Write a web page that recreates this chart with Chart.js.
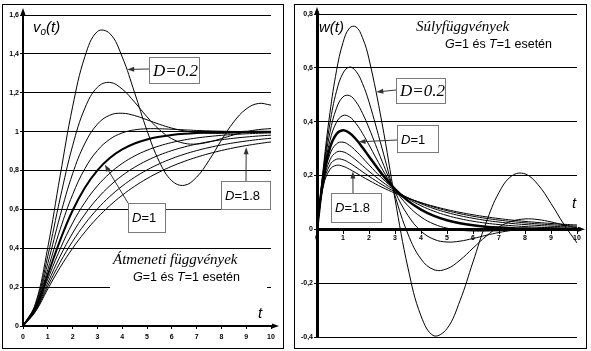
<!DOCTYPE html>
<html>
<head>
<meta charset="utf-8">
<script src="https://cdn.jsdelivr.net/npm/chart.js@4"></script>
<style>
body { margin: 0; background: #fff; }
.panel { position: absolute; border: 1px solid #000; background: #fff; }
#left { left: 2px; top: 4px; width: 280px; height: 343px; }
#right { left: 294px; top: 4px; width: 291px; height: 343px; }
canvas { display: block; }
</style>
</head>
<body>
<div class="panel" id="left"><canvas id="stepChart" width="280" height="343"></canvas></div>
<div class="panel" id="right"><canvas id="impChart" width="291" height="343"></canvas></div>
<script>
// time axis, step responses (left) and weight functions (right)
const tStep = [0, 0.5, 1, 1.5, 2, 2.5, 3, 3.5, 4, 4.5, 5, 5.5, 6, 6.5, 7, 7.5, 8, 8.5, 9, 9.5, 10];
const tImp = [0, 0.25, 0.5, 0.75, 1, 1.25, 1.5, 1.75, 2, 2.5, 3, 3.5, 4, 4.5, 5, 5.5, 6, 6.5, 7, 7.5, 8, 8.5, 9, 9.5, 10];
const dampings = [0.2, 0.4, 0.6, 0.8, 1, 1.2, 1.4, 1.6, 1.8];

const step02 = [0, 0.1147, 0.4050, 0.7748, 1.1274, 1.3879, 1.5151, 1.5049, 1.3845, 1.2006, 1.0056, 0.8446, 0.7473, 0.7237, 0.7657, 0.8521, 0.9556, 1.0503, 1.1166, 1.1450, 1.1361];
const step04 = [0, 0.1077, 0.3599, 0.6582, 0.9271, 1.1221, 1.2281, 1.2532, 1.2189, 1.1517, 1.0761, 1.0100, 0.9637, 0.9400, 0.9362, 0.9465, 0.9643, 0.9833, 0.9995, 1.0104, 1.0157];
const step06 = [0, 0.1013, 0.3224, 0.5685, 0.7830, 0.9407, 1.0382, 1.0846, 1.0945, 1.0826, 1.0608, 1.0377, 1.0180, 1.0039, 0.9955, 0.9917, 0.9911, 0.9924, 0.9946, 0.9967, 0.9985];
const step08 = [0, 0.0955, 0.2909, 0.4982, 0.6759, 0.8104, 0.9028, 0.9607, 0.9933, 1.0091, 1.0147, 1.0147, 1.0122, 1.0091, 1.0061, 1.0038, 1.0021, 1.0010, 1.0003, 1.0000, 0.9998];
const step10 = [0, 0.0902, 0.2642, 0.4422, 0.5940, 0.7127, 0.8009, 0.8643, 0.9084, 0.9389, 0.9596, 0.9734, 0.9826, 0.9887, 0.9927, 0.9953, 0.9970, 0.9981, 0.9988, 0.9992, 0.9995];
const step12 = [0, 0.0854, 0.2416, 0.3968, 0.5296, 0.6367, 0.7208, 0.7859, 0.8361, 0.8746, 0.9041, 0.9266, 0.9439, 0.9571, 0.9672, 0.9749, 0.9808, 0.9853, 0.9888, 0.9914, 0.9934];
const step14 = [0, 0.0809, 0.2221, 0.3594, 0.4778, 0.5758, 0.6559, 0.7210, 0.7739, 0.8167, 0.8514, 0.8796, 0.9024, 0.9209, 0.9359, 0.9480, 0.9579, 0.9659, 0.9723, 0.9776, 0.9818];
const step16 = [0, 0.0769, 0.2052, 0.3283, 0.4352, 0.5259, 0.6021, 0.6661, 0.7199, 0.7650, 0.8028, 0.8345, 0.8612, 0.8835, 0.9023, 0.9180, 0.9312, 0.9423, 0.9516, 0.9594, 0.9659];
const step18 = [0, 0.0731, 0.1906, 0.3020, 0.3997, 0.4841, 0.5567, 0.6191, 0.6727, 0.7187, 0.7583, 0.7923, 0.8216, 0.8467, 0.8682, 0.8868, 0.9027, 0.9164, 0.9282, 0.9383, 0.9470];

const imp02 = [0, 0.2354, 0.4345, 0.5890, 0.6939, 0.7477, 0.7522, 0.7118, 0.6331, 0.3951, 0.1125, -0.1438, -0.3217, -0.3960, -0.3689, -0.2649, -0.1210, 0.0238, 0.1370, 0.1992, 0.2060, 0.1659, 0.0962, 0.0178, -0.0504];
const imp04 = [0, 0.2242, 0.3952, 0.5129, 0.5803, 0.6029, 0.5873, 0.5415, 0.4735, 0.3016, 0.1256, -0.0178, -0.1103, -0.1501, -0.1464, -0.1144, -0.0699, -0.0259, 0.0088, 0.0303, 0.0386, 0.0363, 0.0275, 0.0161, 0.0051];
const imp06 = [0, 0.2137, 0.3606, 0.4500, 0.4921, 0.4969, 0.4737, 0.4311, 0.3763, 0.2536, 0.1396, 0.0513, -0.0066, -0.0372, -0.0471, -0.0439, -0.0340, -0.0224, -0.0118, -0.0039, 0.0012, 0.0038, 0.0045, 0.0040, 0.0031];
const imp08 = [0, 0.2039, 0.3302, 0.3979, 0.4229, 0.4179, 0.3932, 0.3565, 0.3136, 0.2250, 0.1472, 0.0875, 0.0459, 0.0195, 0.0043, -0.0032, -0.0061, -0.0063, -0.0054, -0.0040, -0.0028, -0.0017, -0.0010, -0.0005, -0.0002];
const imp10 = [0, 0.1947, 0.3033, 0.3543, 0.3679, 0.3581, 0.3347, 0.3041, 0.2707, 0.2052, 0.1494, 0.1057, 0.0733, 0.0500, 0.0337, 0.0225, 0.0149, 0.0098, 0.0064, 0.0041, 0.0027, 0.0017, 0.0011, 0.0007, 0.0005];
const imp12 = [0, 0.1861, 0.2795, 0.3177, 0.3238, 0.3120, 0.2909, 0.2658, 0.2395, 0.1899, 0.1479, 0.1141, 0.0877, 0.0672, 0.0514, 0.0394, 0.0301, 0.0230, 0.0176, 0.0135, 0.0103, 0.0079, 0.0060, 0.0046, 0.0035];
const imp14 = [0, 0.1779, 0.2583, 0.2867, 0.2880, 0.2757, 0.2573, 0.2367, 0.2158, 0.1772, 0.1443, 0.1171, 0.0950, 0.0770, 0.0624, 0.0506, 0.0410, 0.0332, 0.0269, 0.0218, 0.0177, 0.0143, 0.0116, 0.0094, 0.0076];
const imp16 = [0, 0.1703, 0.2396, 0.2604, 0.2586, 0.2468, 0.2309, 0.2139, 0.1971, 0.1661, 0.1396, 0.1172, 0.0983, 0.0825, 0.0692, 0.0581, 0.0487, 0.0409, 0.0343, 0.0288, 0.0241, 0.0203, 0.0170, 0.0143, 0.0120];
const imp18 = [0, 0.1632, 0.2228, 0.2379, 0.2343, 0.2232, 0.2096, 0.1954, 0.1817, 0.1564, 0.1345, 0.1155, 0.0993, 0.0853, 0.0733, 0.0630, 0.0541, 0.0465, 0.0400, 0.0343, 0.0295, 0.0254, 0.0218, 0.0187, 0.0161];

const stepSeries = [step02, step04, step06, step08, step10, step12, step14, step16, step18];
const impSeries = [imp02, imp04, imp06, imp08, imp10, imp12, imp14, imp16, imp18];

const SERIF = '"Liberation Serif", "DejaVu Serif", serif';
const SANS = '"Liberation Sans", Arial, sans-serif';

function toPoints(ts, ys) {
    return ys.map((y, i) => ({ x: ts[i], y: y }));
}

function makeDatasets(ts, series, thick) {
    return series.map((ys, i) => ({
        label: 'D=' + dampings[i],
        data: toPoints(ts, ys),
        borderColor: '#000',
        borderWidth: dampings[i] === 1 ? thick : 1,
        pointRadius: 0,
        tension: 0.4,
        fill: false
    }));
}

function commaTick(value) {
    return String(Number(value.toFixed(1))).replace('.', ',');
}

function drawHead(ctx, x, y, angle, len, half) {
    ctx.beginPath();
    ctx.moveTo(x, y);
    ctx.lineTo(x - len * Math.cos(angle) + half * Math.sin(angle), y - len * Math.sin(angle) - half * Math.cos(angle));
    ctx.lineTo(x - len * Math.cos(angle) - half * Math.sin(angle), y - len * Math.sin(angle) + half * Math.cos(angle));
    ctx.closePath();
    ctx.fill();
}

function drawRich(ctx, x, y, parts, family) {
    parts.forEach(p => {
        ctx.font = (p.i ? 'italic ' : '') + p.s + 'px ' + (p.f || family);
        ctx.fillText(p.t, x, y + (p.dy || 0));
        x += ctx.measureText(p.t).width;
    });
}

// axis arrows, caption texts and the labelled boxes with arrows
const notesPlugin = {
    id: 'notes',
    afterDraw(chart, args, opts) {
        const ctx = chart.ctx;
        const xs = chart.scales.x, ys = chart.scales.y;
        const area = chart.chartArea;
        const x0 = xs.getPixelForValue(0), y0 = ys.getPixelForValue(0);
        ctx.save();
        ctx.fillStyle = '#000';
        ctx.strokeStyle = '#000';

        // axis arrows
        ctx.lineWidth = opts.axisWidth;
        ctx.beginPath();
        ctx.moveTo(x0, area.top);
        ctx.lineTo(x0, area.top - 3);
        ctx.moveTo(area.right, y0);
        ctx.lineTo(area.right + 4, y0);
        ctx.stroke();
        drawHead(ctx, x0, area.top - 7, -Math.PI / 2, 7, 2.5);
        drawHead(ctx, area.right + 8, y0, 0, 7, 2.5);

        if (opts.mask) {
            ctx.fillStyle = '#fff';
            ctx.fillRect(...opts.mask);
            ctx.fillStyle = '#000';
        }

        ctx.textBaseline = 'alphabetic';
        opts.texts.forEach(tx => drawRich(ctx, tx.x, tx.y, tx.parts, tx.family));

        ctx.lineWidth = 1;
        (opts.lines || []).forEach(l => {
            ctx.strokeStyle = '#333';
            ctx.beginPath();
            ctx.moveTo(l[0] + 0.5, l[1] + 0.5);
            ctx.lineTo(l[2] + 0.5, l[3] + 0.5);
            ctx.stroke();
        });

        opts.boxes.forEach(b => {
            // arrow from box to the curve
            const tx = xs.getPixelForValue(b.tip[0]);
            const ty = ys.getPixelForValue(b.tip[1]);
            const ang = Math.atan2(ty - b.from[1], tx - b.from[0]);
            ctx.strokeStyle = '#333';
            ctx.fillStyle = '#333';
            ctx.beginPath();
            ctx.moveTo(b.from[0], b.from[1]);
            ctx.lineTo(tx - 5 * Math.cos(ang), ty - 5 * Math.sin(ang));
            ctx.stroke();
            drawHead(ctx, tx, ty, ang, 7, 2.5);

            ctx.fillStyle = '#fff';
            ctx.fillRect(b.x, b.y, b.w, b.h);
            ctx.strokeStyle = '#7a7a7a';
            ctx.strokeRect(b.x + 0.5, b.y + 0.5, b.w, b.h);
            ctx.fillStyle = '#000';
            drawRich(ctx, b.x + 4, b.y + b.ty, b.parts, b.family);
        });
        ctx.restore();
    }
};

function baseOptions(cfg) {
    return {
        responsive: false,
        animation: false,
        events: [],
        layout: { padding: cfg.padding },
        plugins: {
            legend: { display: false },
            tooltip: { enabled: false },
            notes: cfg.notes
        },
        scales: {
            x: {
                type: 'linear',
                position: cfg.xPosition,
                min: 0,
                max: 10,
                afterFit: cfg.xFit,
                border: { display: true, color: '#000', width: cfg.axisWidth },
                grid: { drawOnChartArea: false, drawTicks: true, tickLength: 3, color: '#000' },
                ticks: {
                    stepSize: 1,
                    padding: cfg.xPad,
                    color: '#000',
                    maxRotation: 0,
                    font: { family: SANS, size: 7, weight: 'bold' }
                }
            },
            y: {
                type: 'linear',
                min: cfg.yMin,
                max: cfg.yMax,
                afterFit: (s) => { s.width = cfg.yWidth; },
                border: { display: true, color: '#000', width: cfg.axisWidth },
                grid: { color: '#000', lineWidth: 1, tickLength: 3 },
                ticks: {
                    stepSize: 0.2,
                    padding: 1,
                    color: '#000',
                    callback: commaTick,
                    font: { family: SANS, size: 7, weight: 'bold' }
                }
            }
        }
    };
}

new Chart(document.getElementById('stepChart'), {
    type: 'line',
    data: { datasets: makeDatasets(tStep, stepSeries, 2) },
    options: baseOptions({
        padding: { top: 10, right: 12, bottom: 0, left: 0 },
        xPosition: 'bottom',
        xFit: (s) => { s.height = 22; },
        xPad: 4,
        yMin: 0, yMax: 1.6, yWidth: 20,
        axisWidth: 2,
        notes: {
            axisWidth: 2,
            mask: [107, 247, 157, 48],
            texts: [
                { x: 30, y: 27, family: SANS, parts: [{ t: 'v', i: true, s: 15 }, { t: 'o', i: true, s: 10, dy: 3 }, { t: '(t)', i: true, s: 15 }] },
                { x: 110, y: 259, family: SERIF, parts: [{ t: 'Átmeneti függvények', i: true, s: 15 }] },
                { x: 130, y: 276, family: SANS, parts: [{ t: 'G', i: true, s: 12.5 }, { t: '=1 és ', s: 12.5 }, { t: 'T', i: true, s: 12.5 }, { t: '=1 esetén', s: 12.5 }] },
                { x: 255, y: 313, family: SANS, parts: [{ t: 't', i: true, s: 15 }] }
            ],
            lines: [[162, 204, 218, 204]],
            boxes: [
                { x: 146, y: 52, w: 50, h: 26, ty: 19, from: [146, 64], tip: [4.2, 1.32], family: SERIF,
                  parts: [{ t: 'D=0.2', i: true, s: 17 }] },
                { x: 125, y: 198, w: 37, h: 29, ty: 19, from: [125, 198], tip: [3.3, 0.83], family: SANS,
                  parts: [{ t: 'D', i: true, s: 13 }, { t: '=1', s: 13 }] },
                { x: 218, y: 176, w: 49, h: 28, ty: 19, from: [243, 176], tip: [9, 0.92], family: SANS,
                  parts: [{ t: 'D', i: true, s: 13 }, { t: '=1.8', s: 13 }] }
            ]
        }
    }),
    plugins: [notesPlugin]
});

new Chart(document.getElementById('impChart'), {
    type: 'line',
    data: { datasets: makeDatasets(tImp, impSeries, 2.5) },
    options: baseOptions({
        padding: { top: 9, right: 9, bottom: 11, left: 0 },
        xPosition: { y: 0 },
        xFit: undefined,
        xPad: 2,
        yMin: -0.4, yMax: 0.8, yWidth: 22,
        axisWidth: 3,
        notes: {
            axisWidth: 3,
            texts: [
                { x: 24, y: 27, family: SANS, parts: [{ t: 'w(t)', i: true, s: 15 }] },
                { x: 121, y: 26, family: SERIF, parts: [{ t: 'Súlyfüggvények', i: true, s: 15 }] },
                { x: 150, y: 43, family: SANS, parts: [{ t: 'G', i: true, s: 12.5 }, { t: '=1 és ', s: 12.5 }, { t: 'T', i: true, s: 12.5 }, { t: '=1 esetén', s: 12.5 }] },
                { x: 277, y: 203, family: SANS, parts: [{ t: 't', i: true, s: 15 }] }
            ],
            boxes: [
                { x: 101, y: 73, w: 49, h: 25, ty: 18, from: [101, 85], tip: [2.28, 0.51], family: SERIF,
                  parts: [{ t: 'D=0.2', i: true, s: 17 }] },
                { x: 102, y: 120, w: 41, h: 27, ty: 19, from: [102, 135], tip: [1.6, 0.325], family: SANS,
                  parts: [{ t: 'D', i: true, s: 13 }, { t: '=1', s: 13 }] },
                { x: 36, y: 188, w: 50, h: 29, ty: 19, from: [58, 188], tip: [1.38, 0.215], family: SANS,
                  parts: [{ t: 'D', i: true, s: 13 }, { t: '=1.8', s: 13 }] }
            ]
        }
    }),
    plugins: [notesPlugin]
});
</script>
</body>
</html>
